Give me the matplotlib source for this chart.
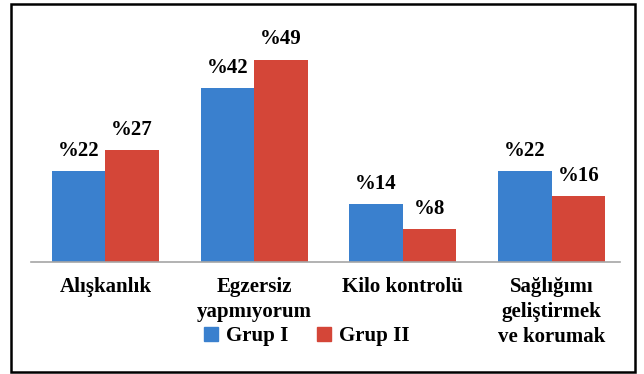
import matplotlib
matplotlib.use('Agg')
from matplotlib import pyplot as plt
import matplotlib.patches as mpatches
import numpy as np

# Data
categories = ['Alışkanlık', 'Egzersiz\nyapmıyorum', 'Kilo kontrolü',
              'Sağlığımı\ngeliştirmek\nve korumak']
grup_1 = [22, 42, 14, 22]
grup_2 = [27, 49, 8, 16]
series_names = ['Grup I', 'Grup II']

blue = '#3A80CE'
red = '#D44638'

plt.rcParams['font.family'] = ['Liberation Serif', 'DejaVu Serif']
plt.rcParams['font.weight'] = 'bold'

fig = plt.figure(figsize=(6.44, 3.74), dpi=100)
ax = fig.add_axes([31 / 644, 1 - 262 / 374, 589 / 644, 252 / 374])

x = np.arange(len(categories))
w = 0.36
bars_1 = ax.bar(x - w / 2, grup_1, w, color=blue, label=series_names[0])
bars_2 = ax.bar(x + w / 2, grup_2, w, color=red, label=series_names[1])

# Value labels above the bars
for bars, values in ((bars_1, grup_1), (bars_2, grup_2)):
    for b, v in zip(bars, values):
        ax.annotate('%' + str(v), (b.get_x() + b.get_width() / 2, v),
                    xytext=(0, 11), textcoords='offset points',
                    ha='center', va='baseline', fontsize=15,
                    fontweight='bold')

ax.set_xlim(-0.5, 3.46)
ax.set_ylim(0, 61)
ax.set_yticks([])
ax.set_xticks(x)
ax.set_xticklabels(categories, fontsize=15, fontweight='bold',
                   linespacing=1.32)
ax.tick_params(axis='x', length=0, pad=11)
for s in ['top', 'right', 'left']:
    ax.spines[s].set_visible(False)
ax.spines['bottom'].set_color('#A6A6A6')
ax.spines['bottom'].set_linewidth(1.2)

# Legend
blue_patch = mpatches.Patch(color=blue, label=series_names[0])
red_patch = mpatches.Patch(color=red, label=series_names[1])
fig.legend(handles=[blue_patch, red_patch], loc='center',
           bbox_to_anchor=(307 / 644, 1 - 336 / 374), ncol=2,
           frameon=False, fontsize=15, handlelength=0.65, handleheight=0.65,
           handletextpad=0.4, columnspacing=1.4, borderaxespad=0,
           borderpad=0)

# Outer frame
frame = mpatches.Rectangle((11 / 644, 1 - 372 / 374), 624 / 644, 368 / 374,
                           transform=fig.transFigure, fill=False,
                           edgecolor='black', linewidth=1.8)
fig.patches.append(frame)

fig.savefig('out.png', dpi=100)
